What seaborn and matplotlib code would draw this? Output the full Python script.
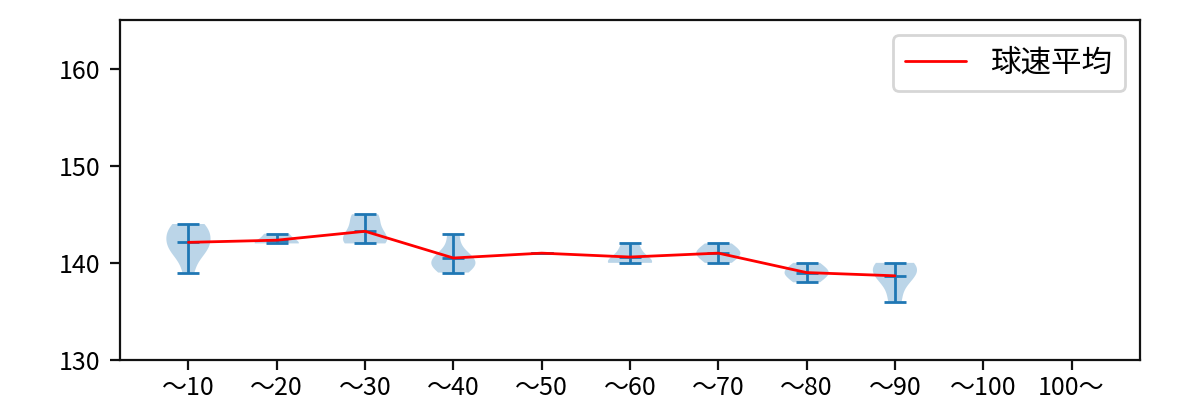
import numpy as np
import matplotlib
matplotlib.use("Agg")
import matplotlib.pyplot as plt
import seaborn as sns
import pandas as pd

sns.set_style("ticks")
plt.rcParams['font.family'] = ['Noto Sans CJK JP', 'DejaVu Sans']
plt.rcParams['font.size'] = 9
plt.rcParams['text.color'] = 'black'
plt.rcParams['xtick.color'] = 'black'
plt.rcParams['ytick.color'] = 'black'

categories = ["〜10", "〜20", "〜30", "〜40", "〜50", "〜60", "〜70", "〜80", "〜90", "〜100", "100〜"]

speed_10 = [139, 141, 141, 142, 142, 143, 143, 144, 144]
speed_20 = [142, 142, 143]
speed_30 = [142, 142, 142, 143, 143, 144, 145, 145]
speed_40 = [139, 140, 140, 140, 141, 143]
speed_50 = [141]
speed_60 = [140, 140, 140, 141, 142]
speed_70 = [140, 141, 141, 142]
speed_80 = [138, 139, 139, 140]
speed_90 = [136, 138, 139, 139, 140, 140]
speed_100 = []
speed_over = []

groups = [speed_10, speed_20, speed_30, speed_40, speed_50, speed_60,
          speed_70, speed_80, speed_90, speed_100, speed_over]
legend_label = "球速平均"

fig = plt.figure(figsize=(6, 2), dpi=200)
ax = fig.add_axes([0.1, 0.1, 0.85, 0.85])
for s in ax.spines.values():
    s.set_color("#111111")
    s.set_linewidth(0.8)

positions = np.arange(1, len(categories) + 1)
multi_pos = [p for p, g in zip(positions, groups) if len(g) > 1]
multi_data = [g for g in groups if len(g) > 1]
vp = ax.violinplot(multi_data, positions=multi_pos, showmeans=True, showextrema=True, widths=0.5)
for b in vp['bodies']:
    b.set_facecolor("#1f77b4")
    b.set_alpha(0.3)
    b.set_edgecolor("none")
for key in ("cmeans", "cmins", "cmaxes", "cbars"):
    vp[key].set_linewidth(1.0)

# single-value groups: only the caps (mean/min/max coincide)
for p, g in zip(positions, groups):
    if len(g) == 1:
        ax.hlines([g[0]] * 3, p - 0.125, p + 0.125, color="#1f77b4", lw=1.0)

mean_pos = [p for p, g in zip(positions, groups) if len(g) > 0]
mean_val = [float(np.mean(g)) for g in groups if len(g) > 0]
df = pd.DataFrame({"pos": mean_pos, "mean": mean_val})
sns.lineplot(data=df, x="pos", y="mean", color="red", lw=1.0, ax=ax, label=legend_label)

ax.set_xticks(positions)
ax.set_xticklabels(categories)
ax.set_xlim(0.225, 11.775)
ax.set_ylim(130, 165)
ax.set_yticks([130, 140, 150, 160])
ax.set_xlabel("")
ax.set_ylabel("")
ax.tick_params(length=3.5, width=0.8, color="#111111")
ax.tick_params(axis="x", pad=2)
ax.legend(loc="upper right", frameon=True, fontsize=11)

fig.savefig("out.png", dpi=200)
